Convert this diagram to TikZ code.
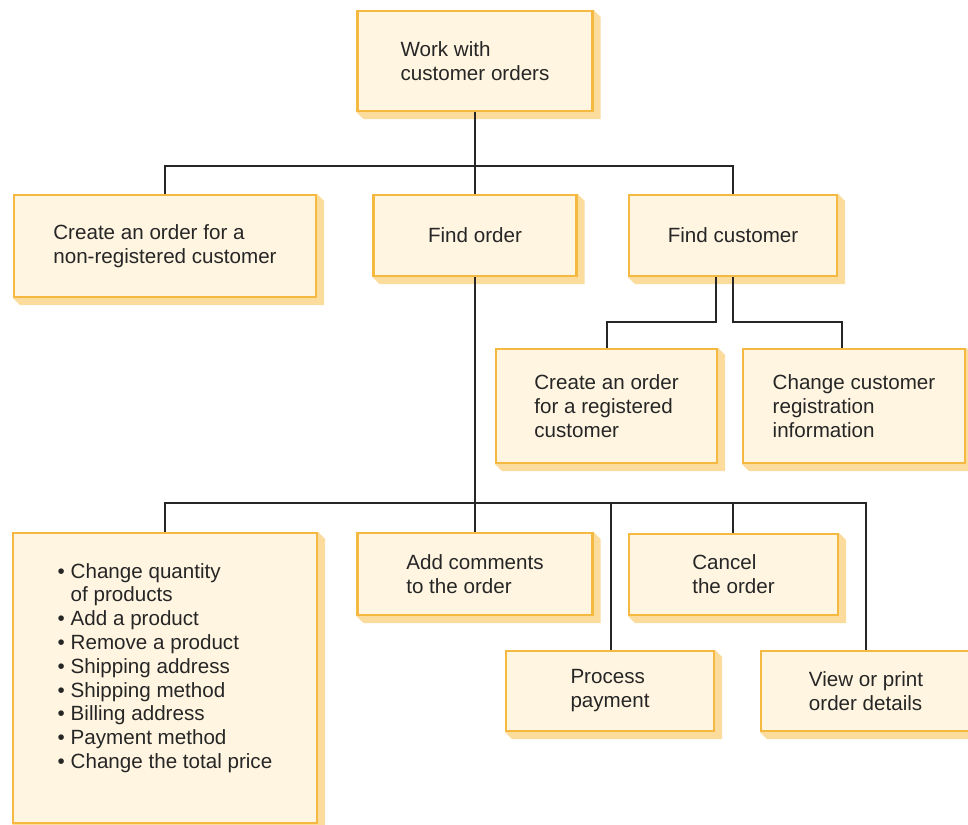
\documentclass[tikz,border=0pt]{standalone}
\usepackage{fontspec}
\setmainfont{Liberation Sans}
\usetikzlibrary{backgrounds,calc}
\definecolor{boxfill}{HTML}{FFF5E1}
\definecolor{boxedge}{HTML}{F5B841}
\definecolor{boxshade}{HTML}{FBDC9C}
\definecolor{ink}{HTML}{262626}
\tikzset{
  task/.style={draw=boxedge, fill=boxfill, line width=2.2pt, rectangle,
    inner sep=0pt, align=left, text=ink, font=\fontsize{20.6}{24}\selectfont},
  tasktext/.style={inner sep=0pt, align=left, text=ink,
    font=\fontsize{20.6}{23.8}\selectfont},
  link/.style={draw=ink, line width=2pt},
}
% extruded shade behind a task box
\newcommand\shadebox[1]{%
  \fill[boxshade] (#1.north east) -- ++(7,7) |- ($(#1.south west)+(7,7)$)
    -- (#1.south west) -- cycle;}
\newcommand\itm{\makebox[13pt][l]{\textbullet}}
\begin{document}
\begin{tikzpicture}[x=1pt,y=-1pt]
\useasboundingbox (0,0) rectangle (968,824);

% task boxes
\node[task, minimum width=235, minimum height=100] (top) at (475,61)
  {Work with\\customer orders};
\node[task, minimum width=302, minimum height=102] (nonreg) at (165,246)
  {Create an order for a\\non-registered customer};
\node[task, minimum width=203, minimum height=81] (findorder) at (475,235.5)
  {Find order};
\node[task, minimum width=208, minimum height=81] (findcust) at (733,235.5)
  {Find customer};
\node[task, minimum width=221, minimum height=114] (createreg) at (606.5,406)
  {Create an order\\for a registered\\customer};
\node[task, minimum width=222, minimum height=114] (change) at (854,406)
  {Change customer\\registration\\information};
\node[task, minimum width=304, minimum height=290] (edit) at (165,678) {};
\node[tasktext] (edittext) at (165,668)
  {\itm Change quantity\\\hphantom{\itm}of products\\\itm Add a product\\
   \itm Remove a product\\\itm Shipping address\\\itm Shipping method\\
   \itm Billing address\\\itm Payment method\\\itm Change the total price};
\node[task, minimum width=235, minimum height=82] (addc) at (475,574)
  {Add comments\\to the order};
\node[task, minimum width=209, minimum height=81] (cancel) at (733.5,574.5)
  {Cancel\\the order};
\node[task, minimum width=208, minimum height=80] (proc) at (610,691)
  {Process\\payment};
\node[task, minimum width=210, minimum height=80] (view) at (866,691)
  {View or print\\order details};

\begin{pgfonlayer}{background}
  \foreach \n in {top,nonreg,findorder,findcust,createreg,change,edit,addc,cancel,proc,view}
    {\shadebox{\n}}
\end{pgfonlayer}

% connectors
\coordinate (busA) at (475,166);
\draw[link] (top.south) -- (busA);
\draw[link] (busA) -| (nonreg.north);
\draw[link] (busA) -- (findorder.north);
\draw[link] (busA) -| (findcust.north);

\draw[link] ([xshift=-17pt]findcust.south) -- ++(0,45) -| (createreg.north);
\draw[link] (findcust.south) -- ++(0,45) -| ([xshift=-12pt]change.north);

\coordinate (busB) at (475,503);
\draw[link] (findorder.south) -- (busB);
\draw[link] (busB) -| (edit.north);
\draw[link] (busB) -- (addc.north);
\draw[link] (busB) -| ([xshift=1pt]proc.north);
\draw[link] (busB) -| ([xshift=-0.5pt]cancel.north);
\draw[link] (busB) -| (view.north);
\end{tikzpicture}
\end{document}
